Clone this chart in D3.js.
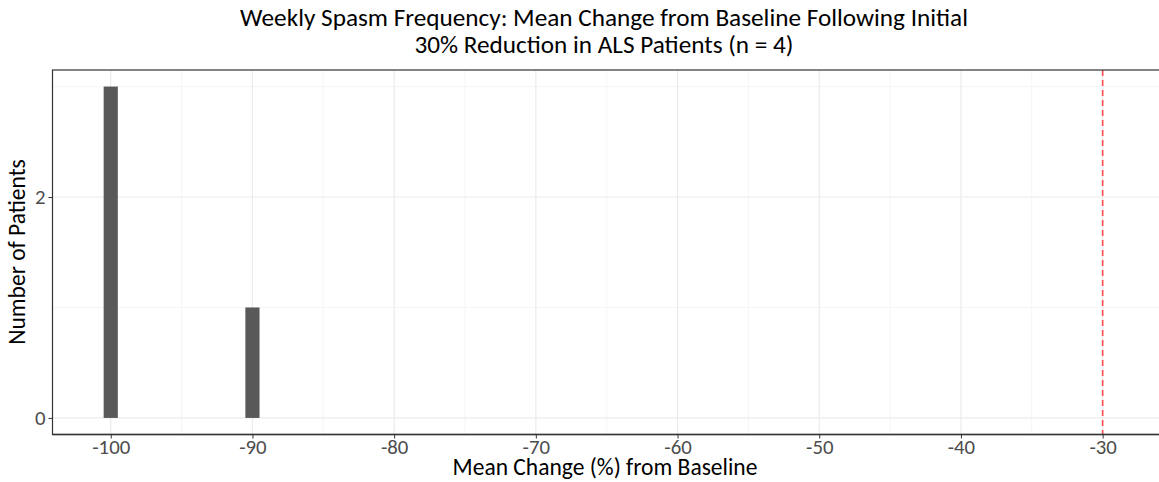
<!DOCTYPE html>
<html><head><meta charset="utf-8">
<script src="https://cdn.jsdelivr.net/npm/d3@7"></script>
<style>body{margin:0;background:#fff}svg{display:block}text{font-family:Calibri,Carlito,"Open Sans",sans-serif}</style>
</head><body><svg id="c" width="1159" height="482"></svg>
<script>
const binCenters = [-100, -90];
const counts = [3, 1];
const binWidth = 1;
const refLine = -30;
const xTicks = [-100, -90, -80, -70, -60, -50, -40, -30];
const xMinor = [-95, -85, -75, -65, -55, -45, -35];
const yTicks = [0, 2];
const yMinor = [1, 3];
const titleLines = ["Weekly Spasm Frequency: Mean Change from Baseline Following Initial", "30% Reduction in ALS Patients (n = 4)"];
const xTitle = "Mean Change (%) from Baseline";
const yTitle = "Number of Patients";

const svg = d3.select("#c");
const L = 52.5, R = 1170, T = 70, B = 434.5;
const x = d3.scaleLinear().domain([-104.11, -104.11 + (R - L) / 14.17]).range([L, R]);
const y = d3.scaleLinear().domain([-0.15, 3.15]).range([B, T]);
const FF = 'Calibri,Carlito,"Open Sans",sans-serif';

function fit(sel, w) {
  const n = sel.node(); const fs = parseFloat(sel.style("font-size"));
  const cur = n.getComputedTextLength(); sel.style("font-size", (fs * w / cur) + "px");
}

const g = svg.append("g");
g.selectAll(".xm").data(xMinor).join("line").attr("x1", d => x(d)).attr("x2", d => x(d)).attr("y1", T).attr("y2", B).attr("stroke", "#f2f2f2").attr("stroke-width", 0.8);
g.selectAll(".ym").data(yMinor).join("line").attr("y1", d => y(d)).attr("y2", d => y(d)).attr("x1", L).attr("x2", R).attr("stroke", "#f2f2f2").attr("stroke-width", 0.8);
g.selectAll(".xg").data(xTicks).join("line").attr("x1", d => x(d)).attr("x2", d => x(d)).attr("y1", T).attr("y2", B).attr("stroke", "#ebebeb").attr("stroke-width", 1.2);
g.selectAll(".yg").data(yTicks).join("line").attr("y1", d => y(d)).attr("y2", d => y(d)).attr("x1", L).attr("x2", R).attr("stroke", "#ebebeb").attr("stroke-width", 1.2);

g.selectAll(".bar").data(binCenters).join("rect")
  .attr("x", d => x(d - binWidth / 2)).attr("width", (d) => x(d + binWidth / 2) - x(d - binWidth / 2))
  .attr("y", (d, i) => y(counts[i])).attr("height", (d, i) => y(0) - y(counts[i]))
  .attr("fill", "#595959");

g.append("line").attr("x1", x(refLine)).attr("x2", x(refLine)).attr("y1", T).attr("y2", B)
  .attr("stroke", "#ff4d4d").attr("stroke-width", 1.6).attr("stroke-dasharray", "6,4");

svg.append("rect").attr("x", L).attr("y", T).attr("width", R - L).attr("height", B - T).attr("fill", "none").attr("stroke", "#333").attr("stroke-width", 1.2);
svg.append("line").attr("x1", L).attr("x2", R).attr("y1", B).attr("y2", B).attr("stroke", "#333").attr("stroke-width", 1.5);

const fmt = d => String(d);
const xa = svg.append("g").attr("transform", `translate(0,${B})`).call(d3.axisBottom(x).tickValues(xTicks).tickSize(4).tickPadding(1).tickFormat(fmt));
xa.select(".domain").remove();
xa.selectAll("line").attr("stroke", "#333");
xa.selectAll("text").style("font-size", "18px").style("font-family", FF).attr("fill", "#4d4d4d");
const ya = svg.append("g").attr("transform", `translate(${L},0)`).call(d3.axisLeft(y).tickValues(yTicks).tickSize(4).tickPadding(3).tickFormat(fmt));
ya.select(".domain").remove();
ya.selectAll("line").attr("stroke", "#333");
ya.selectAll("text").style("font-size", "18px").style("font-family", FF).attr("fill", "#4d4d4d");
fit(xa.select("text"), 38);
const tfs = xa.select("text").style("font-size");
xa.selectAll("text").style("font-size", tfs);
ya.selectAll("text").style("font-size", tfs);

const t1 = svg.append("text").attr("x", 604).attr("y", 26).attr("text-anchor", "middle").style("font-size", "19px").attr("fill", "#000").text(titleLines[0]);
fit(t1, 728);
const t2 = svg.append("text").attr("x", 604).attr("y", 53).attr("text-anchor", "middle").style("font-size", t1.style("font-size")).attr("fill", "#000").text(titleLines[1]);
const xt = svg.append("text").attr("x", 605).attr("y", 475).attr("text-anchor", "middle").style("font-size", "19px").attr("fill", "#000").text(xTitle);
fit(xt, 305);
const yt = svg.append("text").attr("transform", `translate(25,252) rotate(-90)`).attr("text-anchor", "middle").style("font-size", xt.style("font-size")).attr("fill", "#000").text(yTitle);
</script></body></html>
